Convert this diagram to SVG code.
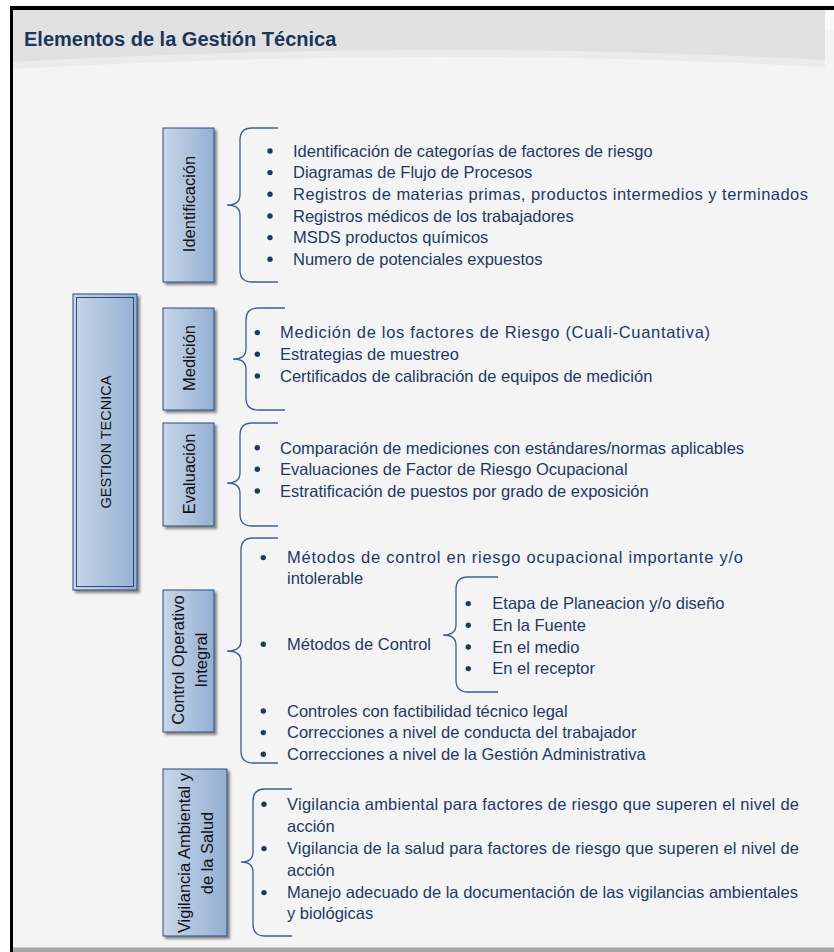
<svg xmlns="http://www.w3.org/2000/svg" width="834" height="952" viewBox="0 0 834 952">
<defs>
<linearGradient id="boxg" x1="0" y1="0" x2="1" y2="0">
<stop offset="0" stop-color="#c8d6e9"/>
<stop offset="1" stop-color="#94afd3"/>
</linearGradient>
<filter id="sh" x="-20%" y="-20%" width="150%" height="150%">
<feDropShadow dx="2.5" dy="2.5" stdDeviation="1" flood-color="#000" flood-opacity="0.45"/>
</filter>
</defs>
<style>
.box{fill:url(#boxg);stroke:#2d4a7a;stroke-width:1}
.lbl{font-family:"Liberation Sans",Arial,sans-serif;font-size:16.5px;fill:#111;text-anchor:middle}
.t{font-family:"Liberation Sans",Arial,sans-serif;font-size:16.5px;fill:#1f3864}
.b{fill:#1f3864}
.br{fill:none;stroke:#3d5d8e;stroke-width:1.3}
</style>
<rect x="0" y="0" width="834" height="952" fill="#ffffff"/>
<rect x="13" y="10" width="821" height="938" fill="#f4f4f4"/>
<rect x="825" y="10" width="9" height="19" fill="#fafafa"/>
<path d="M13,10 H825 V67 Q420,46 13,69 Z" fill="#ebebeb"/>
<path d="M13,10 H825 V60 Q420,39 13,62 Z" fill="#e1e1e1"/>
<rect x="10" y="6" width="824" height="4" fill="#000"/>
<rect x="10" y="6" width="3" height="946" fill="#000"/>
<rect x="13" y="947" width="821" height="1" fill="#d0d0d0"/>
<rect x="13" y="948" width="821" height="4" fill="#a6a6a6"/>
<text x="24" y="46" font-family="Liberation Sans,Arial,sans-serif" font-size="20" font-weight="bold" fill="#1b365d">Elementos de la Gestión Técnica</text>

<g id="connectors">
<path class="br" d="M278,128 H252 Q240,128 240,140 V195 Q240,205 227,205 Q240,205 240,215 V270 Q240,282 252,282 H278"/>
<path class="br" d="M285,308 H258 Q246,308 246,320 V349 Q246,359 233,359 Q246,359 246,369 V398 Q246,410 258,410 H285"/>
<path class="br" d="M278,423 H252 Q240,423 240,435 V473 Q240,483 227,483 Q240,483 240,493 V514 Q240,526 252,526 H278"/>
<path class="br" d="M278,538 H253 Q241,538 241,550 V641 Q241,651 227,651 Q241,651 241,661 V751 Q241,763 253,763 H278"/>
<path class="br" d="M498,577 H468 Q456,577 456,589 V625 Q456,635 443,635 Q456,635 456,645 V680 Q456,692 468,692 H498"/>
<path class="br" d="M292,789 H265 Q253,789 253,801 V852 Q253,862 241,862 Q253,862 253,872 V924 Q253,936 265,936 H292"/>
</g>

<g id="gestion">
<rect x="73" y="294" width="64" height="296" class="box" filter="url(#sh)"/>
<rect x="76.5" y="297.5" width="57" height="289" fill="none" stroke="#2d4a7a" stroke-width="1"/>
<text class="lbl" transform="translate(110.5,442) rotate(-90)" textLength="133" lengthAdjust="spacingAndGlyphs" style="font-size:15.5px">GESTION TECNICA</text>
</g>

<g id="identificacion">
<rect x="163" y="128" width="51" height="154" class="box" filter="url(#sh)"/>
<text class="lbl" transform="translate(195,204) rotate(-90)">Identificación</text>
</g>
<g id="identificacion-items">
<circle class="b" cx="270" cy="151" r="2.7"/><text class="t" x="293" y="156.7">Identificación de categorías de factores de riesgo</text>
<circle class="b" cx="270" cy="172.6" r="2.7"/><text class="t" x="293" y="178.3">Diagramas de Flujo de Procesos</text>
<circle class="b" cx="270" cy="194.3" r="2.7"/><text class="t" x="293" y="200" textLength="515" lengthAdjust="spacing">Registros de materias primas, productos intermedios y terminados</text>
<circle class="b" cx="270" cy="216" r="2.7"/><text class="t" x="293" y="221.7">Registros médicos de los trabajadores</text>
<circle class="b" cx="270" cy="237.6" r="2.7"/><text class="t" x="293" y="243.3">MSDS productos químicos</text>
<circle class="b" cx="270" cy="259.3" r="2.7"/><text class="t" x="293" y="265">Numero de potenciales expuestos</text>
</g>

<g id="medicion">
<rect x="163" y="308" width="51" height="102" class="box" filter="url(#sh)"/>
<text class="lbl" transform="translate(195,358) rotate(-90)">Medición</text>
</g>
<g id="medicion-items">
<circle class="b" cx="257.3" cy="332.6" r="2.7"/><text class="t" x="280" y="338.3" textLength="430" lengthAdjust="spacing">Medición de los factores de Riesgo (Cuali-Cuantativa)</text>
<circle class="b" cx="257.3" cy="354.3" r="2.7"/><text class="t" x="280" y="360">Estrategias de muestreo</text>
<circle class="b" cx="257.3" cy="376" r="2.7"/><text class="t" x="280" y="381.7">Certificados de calibración de equipos de medición</text>
</g>

<g id="evaluacion">
<rect x="163" y="423" width="51" height="103" class="box" filter="url(#sh)"/>
<text class="lbl" transform="translate(195,474) rotate(-90)">Evaluación</text>
</g>
<g id="evaluacion-items">
<circle class="b" cx="257.3" cy="447.8" r="2.7"/><text class="t" x="280" y="453.5">Comparación de mediciones con estándares/normas aplicables</text>
<circle class="b" cx="257.3" cy="469.3" r="2.7"/><text class="t" x="280" y="475">Evaluaciones de Factor de Riesgo Ocupacional</text>
<circle class="b" cx="257.3" cy="491" r="2.7"/><text class="t" x="280" y="496.7">Estratificación de puestos por grado de exposición</text>
</g>

<g id="control">
<rect x="163" y="590" width="51" height="142" class="box" filter="url(#sh)"/>
<text class="lbl" transform="translate(183.5,660) rotate(-90)">Control Operativo</text>
<text class="lbl" transform="translate(206.7,660) rotate(-90)">Integral</text>
</g>
<g id="control-items">
<circle class="b" cx="263.3" cy="557.6" r="2.7"/><text class="t" x="287" y="563.3" textLength="456" lengthAdjust="spacing">Métodos de control en riesgo ocupacional importante y/o</text>
<text class="t" x="287" y="584">intolerable</text>
<circle class="b" cx="263.3" cy="644.3" r="2.7"/><text class="t" x="287" y="650">Métodos de Control</text>
<circle class="b" cx="263.3" cy="711" r="2.7"/><text class="t" x="287" y="716.7">Controles con factibilidad técnico legal</text>
<circle class="b" cx="263.3" cy="732.6" r="2.7"/><text class="t" x="287" y="738.3">Correcciones a nivel de conducta del trabajador</text>
<circle class="b" cx="263.3" cy="754.3" r="2.7"/><text class="t" x="287" y="760">Correcciones a nivel de la Gestión Administrativa</text>
</g>
<g id="control-sub-items">
<circle class="b" cx="468.3" cy="603.6" r="2.7"/><text class="t" x="492.3" y="609.3">Etapa de Planeacion y/o diseño</text>
<circle class="b" cx="468.3" cy="625.3" r="2.7"/><text class="t" x="492.3" y="631">En la Fuente</text>
<circle class="b" cx="468.3" cy="647" r="2.7"/><text class="t" x="492.3" y="652.7">En el medio</text>
<circle class="b" cx="468.3" cy="668.6" r="2.7"/><text class="t" x="492.3" y="674.3">En el receptor</text>
</g>

<g id="vigilancia">
<rect x="163" y="769" width="64" height="167" class="box" filter="url(#sh)"/>
<text class="lbl" transform="translate(189.5,853) rotate(-90)">Vigilancia Ambiental y</text>
<text class="lbl" transform="translate(213,853) rotate(-90)">de la Salud</text>
</g>
<g id="vigilancia-items">
<circle class="b" cx="264" cy="804.3" r="2.7"/><text class="t" x="287" y="810" textLength="512" lengthAdjust="spacing">Vigilancia ambiental para factores de riesgo que superen el nivel de</text>
<text class="t" x="287" y="831.7">acción</text>
<circle class="b" cx="264" cy="848.6" r="2.7"/><text class="t" x="287" y="854.3" textLength="512" lengthAdjust="spacing">Vigilancia de la salud para factores de riesgo que superen el nivel de</text>
<text class="t" x="287" y="876">acción</text>
<circle class="b" cx="264" cy="892.6" r="2.7"/><text class="t" x="287" y="898.3">Manejo adecuado de la documentación de las vigilancias ambientales</text>
<text class="t" x="287" y="919.3">y biológicas</text>
</g>
</svg>
